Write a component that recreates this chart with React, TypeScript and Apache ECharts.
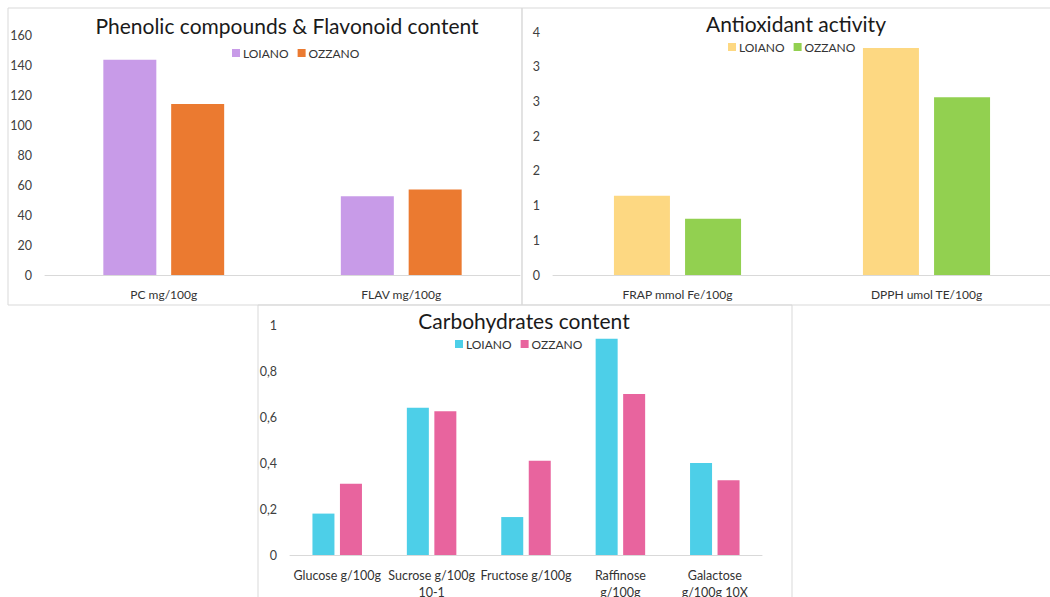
import React, { useEffect, useRef } from "react";
import * as echarts from "echarts";

const phenCategories = ["PC mg/100g", "FLAV mg/100g"];
const phenLoiano = [143.5, 52.5];
const phenOzzano = [114, 57];

const antiCategories = ["FRAP mmol Fe/100g", "DPPH umol TE/100g"];
const antiLoiano = [1.14, 3.27];
const antiOzzano = [0.81, 2.56];

const carbCategories = [
  "Glucose g/100g",
  "Sucrose g/100g\n10-1",
  "Fructose g/100g",
  "Raffinose\ng/100g",
  "Galactose\ng/100g 10X",
];
const carbLoiano = [0.18, 0.64, 0.165, 0.94, 0.4];
const carbOzzano = [0.31, 0.625, 0.41, 0.70, 0.325];

const FONT = "Lato";
const labelColor = "#404040";
const axisLineColor = "#d9d9d9";

export default function App() {
  const ref = useRef<HTMLDivElement>(null);
  useEffect(() => {
    if (!ref.current) return;
    const chart = echarts.init(ref.current, null, { renderer: "svg" });
    const nameFmt = (n: string) => n.split("#")[0];
    const titleStyle = { fontFamily: FONT, fontSize: 21, color: "#1a1a1a", fontWeight: "normal" as const };
    const legendBase = {
      padding: 0,
      itemWidth: 8,
      itemHeight: 8,
      itemGap: 9,
      icon: "rect",
      formatter: nameFmt,
      textStyle: { fontFamily: FONT, fontSize: 12, color: "#333333", padding: [0, 0, 0, -2] },
    };
    const catAxis = (gi: number, data: string[], extra: any = {}) => ({
      type: "category",
      gridIndex: gi,
      data,
      axisLine: { lineStyle: { color: axisLineColor, width: 1 } },
      axisTick: { show: false },
      axisLabel: { fontFamily: FONT, fontSize: 12, color: "#333333", margin: 13, interval: 0, ...extra },
    });
    const valAxis = (gi: number, min: number, max: number, interval: number, fmt: any) => ({
      type: "value",
      gridIndex: gi,
      min,
      max,
      interval,
      splitLine: { show: false },
      axisLine: { show: false },
      axisTick: { show: false },
      axisLabel: { fontFamily: FONT, fontSize: 12.5, color: labelColor, margin: 13, formatter: fmt },
    });
    chart.setOption({
      animation: false,
      backgroundColor: "#ffffff",
      graphic: [
        { type: "rect", shape: { x: 8, y: 8, width: 514, height: 297 }, style: { fill: "none", stroke: "#d9d9d9", lineWidth: 1 }, z: -1 },
        { type: "rect", shape: { x: 522, y: 8, width: 540, height: 297 }, style: { fill: "none", stroke: "#d9d9d9", lineWidth: 1 }, z: -1 },
        { type: "rect", shape: { x: 258, y: 305, width: 534, height: 310 }, style: { fill: "none", stroke: "#d9d9d9", lineWidth: 1 }, z: -1 },
      ],
      title: [
        { text: "Phenolic compounds & Flavonoid content", left: 287, top: 15, padding: 0, textAlign: "center", textStyle: titleStyle },
        { text: "Antioxidant activity", left: 796, top: 13, padding: 0, textAlign: "center", textStyle: titleStyle },
        { text: "Carbohydrates content", left: 524, top: 310, padding: 0, textAlign: "center", textStyle: titleStyle },
      ],
      legend: [
        { ...legendBase, left: 232, top: 47, data: ["LOIANO", "OZZANO"] },
        { ...legendBase, left: 728, top: 41, data: ["LOIANO#2", "OZZANO#2"] },
        { ...legendBase, left: 455, top: 338, data: ["LOIANO#3", "OZZANO#3"] },
      ],
      grid: [
        { left: 45, width: 475, top: 35, height: 240, outerBoundsMode: "none" },
        { left: 553, width: 498, top: 32, height: 243, outerBoundsMode: "none" },
        { left: 290, width: 472, top: 325, height: 230, outerBoundsMode: "none" },
      ],
      xAxis: [
        catAxis(0, phenCategories),
        catAxis(1, antiCategories),
        catAxis(2, carbCategories, { lineHeight: 17, margin: 12, fontSize: 12.5 }),
      ],
      yAxis: [
        valAxis(0, 0, 160, 20, (v: number) => String(v)),
        valAxis(1, 0, 3.5, 0.5, (v: number) => String(Math.round(v))),
        valAxis(2, 0, 1, 0.2, (v: number) => (v === 0 || v === 1 ? String(v) : v.toFixed(1).replace(".", ","))),
      ],
      series: [
        { name: "LOIANO", type: "bar", xAxisIndex: 0, yAxisIndex: 0, data: phenLoiano, barWidth: 53, barGap: "28%", itemStyle: { color: "#C89BE8" } },
        { name: "OZZANO", type: "bar", xAxisIndex: 0, yAxisIndex: 0, data: phenOzzano, barWidth: 53, barGap: "28%", itemStyle: { color: "#EB7A30" } },
        { name: "LOIANO#2", type: "bar", xAxisIndex: 1, yAxisIndex: 1, data: antiLoiano, barWidth: 56, barGap: "27%", itemStyle: { color: "#FDD882" } },
        { name: "OZZANO#2", type: "bar", xAxisIndex: 1, yAxisIndex: 1, data: antiOzzano, barWidth: 56, barGap: "27%", itemStyle: { color: "#92D050" } },
        { name: "LOIANO#3", type: "bar", xAxisIndex: 2, yAxisIndex: 2, data: carbLoiano, barWidth: 22, barGap: "25%", itemStyle: { color: "#4DCFE8" } },
        { name: "OZZANO#3", type: "bar", xAxisIndex: 2, yAxisIndex: 2, data: carbOzzano, barWidth: 22, barGap: "25%", itemStyle: { color: "#E8649E" } },
      ],
    });
    return () => chart.dispose();
  }, []);
  return (
    <div
      ref={ref}
      style={{ position: "absolute", left: 0, top: 0, width: 1050, height: 597, background: "#fff" }}
    />
  );
}
